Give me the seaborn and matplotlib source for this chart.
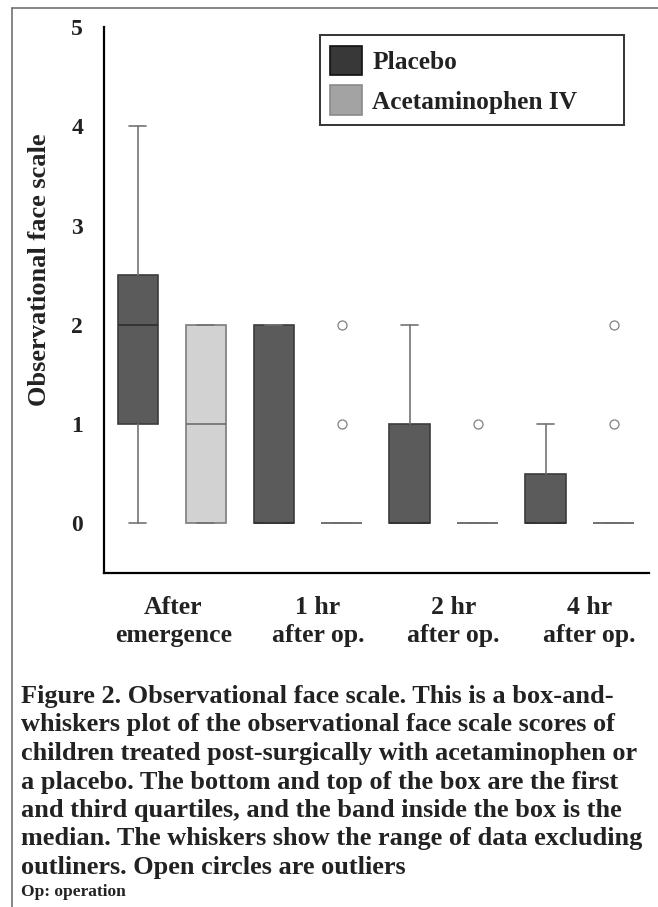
import matplotlib
matplotlib.use("Agg")
import matplotlib.pyplot as plt
import seaborn as sns
from matplotlib.patches import Patch
from matplotlib.lines import Line2D

# ---------------- data ----------------
timepoints = ["After\nemergence", "1 hr\nafter op.", "2 hr\nafter op.", "4 hr\nafter op."]
groups = ["Placebo", "Acetaminophen IV"]

placebo_whislo = [0, 0, 0, 0]
placebo_q1 = [1, 0, 0, 0]
placebo_med = [2, 0, 0, 0]
placebo_q3 = [2.5, 2, 1, 0.5]
placebo_whishi = [4, 2, 2, 1]
placebo_fliers = [[], [], [], []]

acet_whislo = [0, 0, 0, 0]
acet_q1 = [0, 0, 0, 0]
acet_med = [1, 0, 0, 0]
acet_q3 = [2, 0, 0, 0]
acet_whishi = [2, 0, 0, 0]
acet_fliers = [[], [1, 2], [1], [1, 2]]

yticks = [0, 1, 2, 3, 4, 5]

caption_lines = [
    "Figure 2. Observational face scale. This is a box-and-",
    "whiskers plot of the observational face scale scores of",
    "children treated post-surgically with acetaminophen or",
    "a placebo. The bottom and top of the box are the first",
    "and third quartiles, and the band inside the box is the",
    "median. The whiskers show the range of data excluding",
    "outliners. Open circles are outliers",
]
footnote = "Op: operation"

# ---------------- style ----------------
sns.set_style("white")
plt.rcParams["font.family"] = ["Liberation Serif", "DejaVu Serif"]
plt.rcParams["font.weight"] = "bold"

W, H = 658, 907
fig = plt.figure(figsize=(W / 100, H / 100), dpi=100)
ax = fig.add_axes([104 / W, 1 - 573 / H, (649 - 104) / W, (573 - 27) / H])


def make_stats(lo, q1, med, q3, hi, fl):
    return [dict(whislo=a, q1=b, med=c, q3=d, whishi=e, fliers=f)
            for a, b, c, d, e, f in zip(lo, q1, med, q3, hi, fl)]


pos_placebo = [2 * i for i in range(len(timepoints))]
pos_acet = [2 * i + 1 for i in range(len(timepoints))]

flierprops = dict(marker="o", markerfacecolor="white", markeredgecolor="#808080",
                  markersize=6.5, markeredgewidth=0.9)
whisk = dict(color="#737373", linewidth=1.2)

ax.bxp(make_stats(placebo_whislo, placebo_q1, placebo_med, placebo_q3, placebo_whishi, placebo_fliers),
       positions=pos_placebo, widths=0.6, capwidths=0.25, patch_artist=True,
       boxprops=dict(facecolor="#5b5b5b", edgecolor="#3c3c3c", linewidth=1.2),
       medianprops=dict(color="#2e2e2e", linewidth=1.2),
       whiskerprops=whisk, capprops=whisk, flierprops=flierprops, manage_ticks=False)

ax.bxp(make_stats(acet_whislo, acet_q1, acet_med, acet_q3, acet_whishi, acet_fliers),
       positions=pos_acet, widths=0.6, capwidths=0.25, patch_artist=True,
       boxprops=dict(facecolor="#d2d2d2", edgecolor="#7c7c7c", linewidth=1.2),
       medianprops=dict(color="#6e6e6e", linewidth=1.2),
       whiskerprops=whisk, capprops=whisk, flierprops=flierprops, manage_ticks=False)

ax.set_xlim(-0.5, 7.52)
ax.set_ylim(-0.5, 5)
ax.set_yticks(yticks)
ax.set_yticklabels([str(v) for v in yticks], fontsize=17, fontweight="bold", color="#222222")
ax.set_xticks([0.52, 2.65, 4.64, 6.64])
ax.set_xticklabels(timepoints, fontsize=18.5, fontweight="bold", color="#222222", linespacing=1.3)

for s in ["top", "right"]:
    ax.spines[s].set_visible(False)
for s in ["left", "bottom"]:
    ax.spines[s].set_color("black")
    ax.spines[s].set_linewidth(1.6)
ax.tick_params(axis="y", direction="in", length=7.5, width=1.8, pad=15, colors="black",
               labelcolor="#222222")
ax.tick_params(axis="x", direction="out", length=7.5, width=1.8, pad=9, colors="black",
               labelcolor="#222222")
ax.grid(False)

# y label
fig.text(40 / W, 1 - 270 / H, "Observational face scale", rotation=90, ha="center", va="center",
         fontsize=19, fontweight="bold", color="#222222")

# legend
handles = [Patch(facecolor="#383838", edgecolor="#111111", linewidth=1.2),
           Patch(facecolor="#a3a3a3", edgecolor="#8a8a8a", linewidth=1.2)]
leg = ax.legend(handles, groups, loc="upper left",
                bbox_to_anchor=(0.396, 0.813, 0.558, 0.172), mode="expand",
                borderaxespad=0, fancybox=False, frameon=True, edgecolor="black",
                prop=dict(size=18.3, weight="bold"), handlelength=1.25, handleheight=1.4,
                handletextpad=0.4, labelspacing=0.4, borderpad=0.42)
leg.get_frame().set_linewidth(1.4)
for t in leg.get_texts():
    t.set_color("#222222")

# caption
base0 = 703
step = 28.5
for i, line in enumerate(caption_lines):
    fig.text(21 / W, 1 - (base0 + step * i) / H, line, ha="left", va="baseline",
             fontsize=18.9, fontweight="bold", color="#222222")
fig.text(21 / W, 1 - 896 / H, footnote, ha="left", va="baseline",
         fontsize=12.5, fontweight="bold", color="#222222")

# figure border (left + top)
fig.add_artist(Line2D([11.5 / W, 11.5 / W], [0, 1 - 8 / H], transform=fig.transFigure,
                      color="#666666", linewidth=1.1))
fig.add_artist(Line2D([11.5 / W, 1], [1 - 8 / H, 1 - 8 / H], transform=fig.transFigure,
                      color="#666666", linewidth=1.1))

fig.savefig("out.png", dpi=100, facecolor="white")
